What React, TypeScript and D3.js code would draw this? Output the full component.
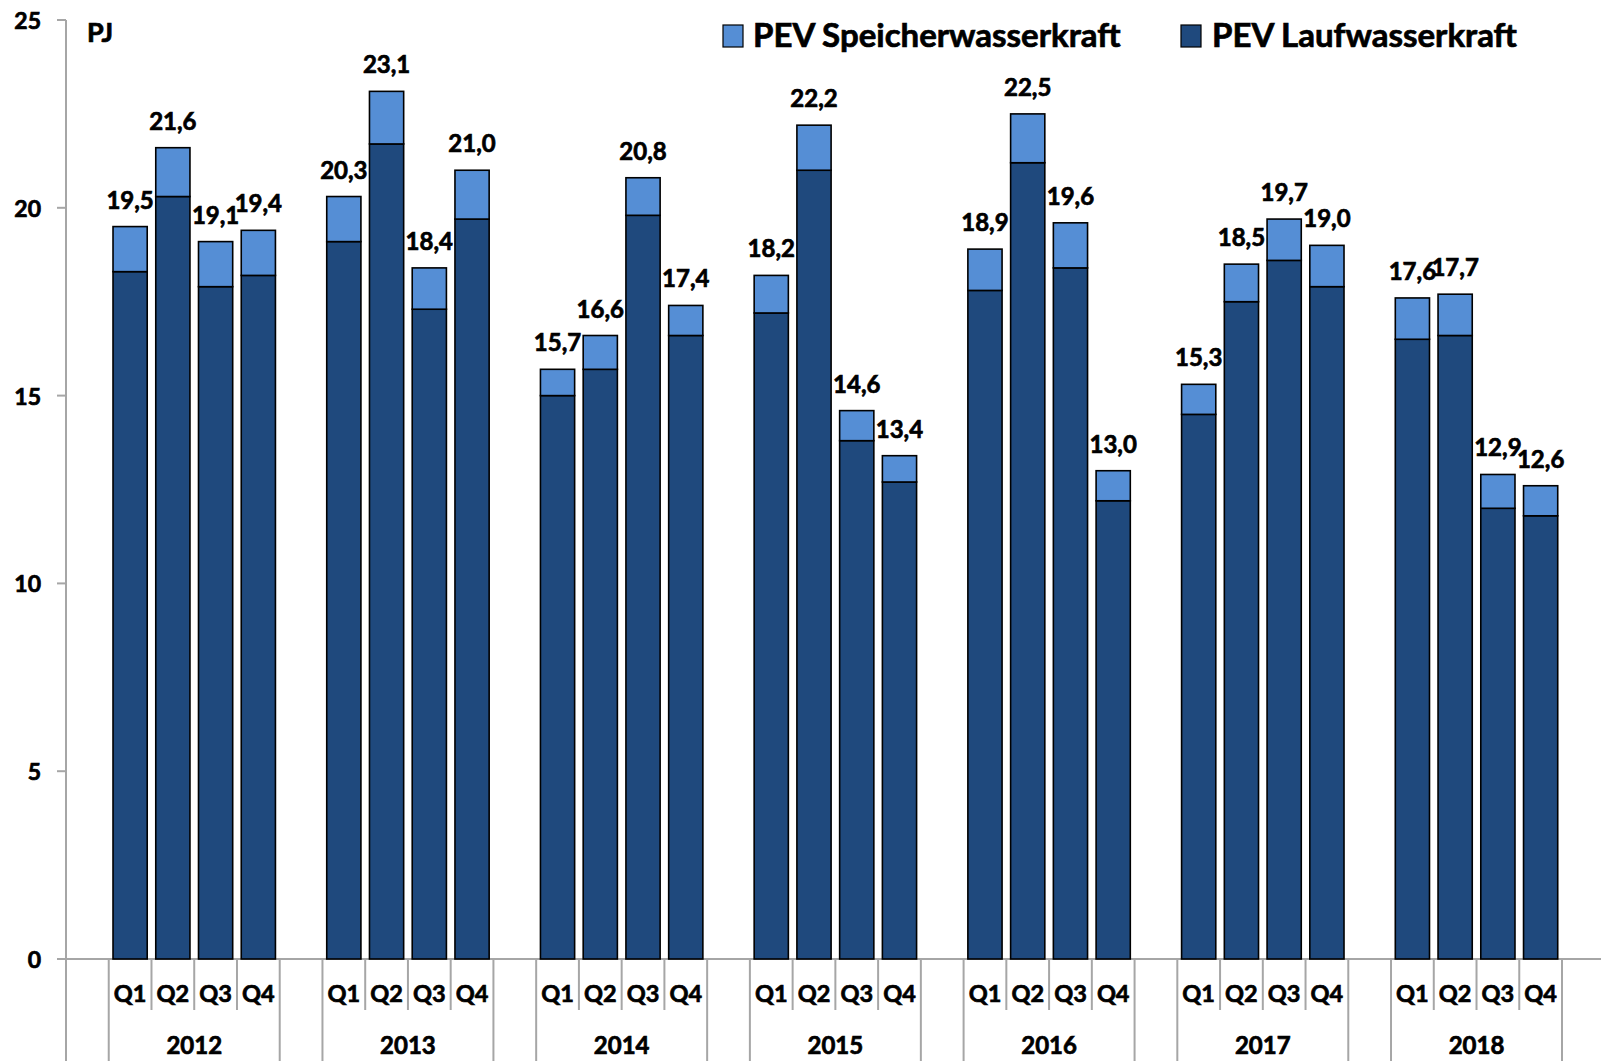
import React from 'react';
import * as d3 from 'd3';

const years = ['2012', '2013', '2014', '2015', '2016', '2017', '2018'];
const quarters = ['Q1', 'Q2', 'Q3', 'Q4'];

// PEV Laufwasserkraft, PJ, quarter by quarter
const lauf = [
  18.3, 20.3, 17.9, 18.2,
  19.1, 21.7, 17.3, 19.7,
  15.0, 15.7, 19.8, 16.6,
  17.2, 21.0, 13.8, 12.7,
  17.8, 21.2, 18.4, 12.2,
  14.5, 17.5, 18.6, 17.9,
  16.5, 16.6, 12.0, 11.8,
];

// PEV Speicherwasserkraft, PJ
const speicher = [
  1.2, 1.3, 1.2, 1.2,
  1.2, 1.4, 1.1, 1.3,
  0.7, 0.9, 1.0, 0.8,
  1.0, 1.2, 0.8, 0.7,
  1.1, 1.3, 1.2, 0.8,
  0.8, 1.0, 1.1, 1.1,
  1.1, 1.1, 0.9, 0.8,
];

const yTicks = [0, 5, 10, 15, 20, 25];

const seriesNames = ['PEV Speicherwasserkraft', 'PEV Laufwasserkraft'];

const WIDTH = 1601;
const HEIGHT = 1061;
const DARK = '#1F497D';
const LIGHT = '#558ED5';
const GRID = '#A6A6A6';
const FONT = 'Lato, "Open Sans", sans-serif';

export default function App() {
  // each year gets an empty slot in front of its four quarters
  const slots: string[] = [];
  years.forEach(y => {
    slots.push(y + '-gap');
    quarters.forEach(q => slots.push(y + '-' + q));
  });

  const x = d3.scaleBand().domain(slots).range([66, 1562]).paddingInner(0.2).paddingOuter(0.1);
  const y = d3.scaleLinear().domain([0, 25]).range([959, 20]);
  const step = x.step();
  const x0 = 66;
  const fmt = (v: number) => v.toFixed(1).replace('.', ',');

  const rows = years.flatMap((yr, yi) =>
    quarters.map((q, qi) => {
      const i = yi * 4 + qi;
      return { key: yr + '-' + q, lauf: lauf[i], speicher: speicher[i], total: lauf[i] + speicher[i] };
    })
  );

  const bottom = y(0);
  // thin outline makes Lato look as heavy as the original bold face
  const heavy = { stroke: '#000', strokeWidth: 0.7 };

  return (
    <svg
      width={WIDTH}
      height={HEIGHT}
      style={{ position: 'absolute', left: 0, top: 0, display: 'block', background: '#fff' }}
      fontFamily={FONT}
      fontWeight="bold"
    >
      {/* y axis */}
      <line x1={x0} x2={x0} y1={y(25)} y2={bottom} stroke={GRID} strokeWidth={2} />
      {yTicks.map(t => (
        <g key={t}>
          <line x1={57} x2={x0} y1={y(t)} y2={y(t)} stroke={GRID} strokeWidth={2} />
          <text x={41} y={y(t)} textAnchor="end" dominantBaseline="central" fontSize={23} {...heavy}>
            {t}
          </text>
        </g>
      ))}
      <text x={87} y={42} fontSize={27} {...heavy}>PJ</text>

      {/* x axis */}
      <line x1={57} x2={WIDTH} y1={bottom} y2={bottom} stroke={GRID} strokeWidth={2} />
      {d3.range(slots.length + 1).map(i => {
        const full = i % 5 === 0 || i % 5 === 1;
        return (
          <line
            key={i}
            x1={x0 + i * step}
            x2={x0 + i * step}
            y1={bottom}
            y2={full ? HEIGHT : 1010}
            stroke={GRID}
            strokeWidth={2}
          />
        );
      })}
      {rows.map(r => (
        <text
          key={'q' + r.key}
          x={(x(r.key) as number) + x.bandwidth() / 2}
          y={1002}
          textAnchor="middle"
          fontSize={23.5}
          {...heavy}
        >
          {r.key.split('-')[1]}
        </text>
      ))}
      {years.map(yr => {
        const a = x(yr + '-Q1') as number;
        const b = (x(yr + '-Q4') as number) + x.bandwidth();
        return (
          <text key={yr} x={(a + b) / 2} y={1054} textAnchor="middle" fontSize={24} {...heavy}>
            {yr}
          </text>
        );
      })}

      {/* stacked bars */}
      {rows.map(r => {
        const bx = x(r.key) as number;
        const bw = x.bandwidth();
        return (
          <g key={r.key}>
            <rect x={bx} y={y(r.lauf)} width={bw} height={bottom - y(r.lauf)} fill={DARK} stroke="#000" strokeWidth={1.6} />
            <rect x={bx} y={y(r.total)} width={bw} height={y(r.lauf) - y(r.total)} fill={LIGHT} stroke="#000" strokeWidth={1.6} />
            <text x={bx + bw / 2} y={y(r.total) - 18} textAnchor="middle" fontSize={24} {...heavy}>
              {fmt(r.total)}
            </text>
          </g>
        );
      })}

      {/* legend */}
      <rect x={723} y={25} width={20} height={22} fill={LIGHT} stroke="#000" strokeWidth={1.2} />
      <text x={753} y={47} fontSize={33} {...heavy}>{seriesNames[0]}</text>
      <rect x={1181} y={25} width={20} height={22} fill={DARK} stroke="#000" strokeWidth={1.2} />
      <text x={1212} y={47} fontSize={33} {...heavy}>{seriesNames[1]}</text>
    </svg>
  );
}
